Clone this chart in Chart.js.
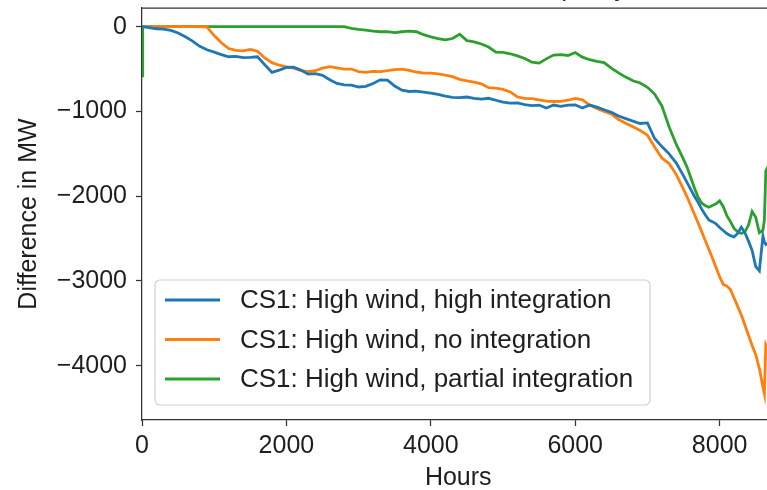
<!DOCTYPE html>
<html>
<head>
<meta charset="utf-8">
<style>
html,body{margin:0;padding:0;background:#fff;width:767px;height:490px;overflow:hidden}
#wrap{position:absolute;left:0;top:0;width:790px;height:500px}
</style>
<script src="https://cdn.jsdelivr.net/npm/chart.js@4.4.1/dist/chart.umd.min.js"></script>
</head>
<body>
<div id="wrap"><canvas id="c"></canvas></div>
<script>
// ---------- data ----------
const titleText = 'Difference in installed capacity';
const xTitle = 'Hours';
const yTitle = 'Difference in MW';
const seriesLabels = [
  'CS1: High wind, high integration',
  'CS1: High wind, no integration',
  'CS1: High wind, partial integration'
];
const xTickValues = [0, 2000, 4000, 6000, 8000];
const yTickValues = [0, -1000, -2000, -3000, -4000];

const hours = [
  0, 10,
  100, 200, 300, 400, 500, 600, 700, 800, 900, 1000,
  1100, 1200, 1300, 1400, 1500, 1600, 1700, 1800, 1900, 2000,
  2100, 2200, 2300, 2400, 2500, 2600, 2700, 2800, 2900, 3000,
  3100, 3200, 3300, 3400, 3500, 3600, 3700, 3800, 3900, 4000,
  4100, 4200, 4300, 4400, 4500, 4600, 4700, 4800, 4900, 5000,
  5100, 5200, 5300, 5400, 5500, 5600, 5700, 5800, 5900, 6000,
  6100, 6200, 6300, 6400, 6500, 6600, 6700, 6800, 6900, 7000,
  7100, 7200, 7300, 7400, 7500,
  7550, 7600, 7650, 7700, 7750, 7800, 7850, 7900, 7950, 8000,
  8050, 8100, 8150, 8200, 8250, 8300, 8350, 8400, 8450, 8500,
  8550, 8600,
  8620, 8640, 8700, 8760
];

const highIntegration = [
  0, 0,
  -12, -25, -30, -45, -75, -120, -170, -232, -272, -300,
  -330, -355, -350, -365, -362, -355, -450, -540, -512, -480,
  -478, -512, -560, -555, -575, -627, -670, -686, -690, -712,
  -705, -670, -627, -630, -700, -750, -765, -760, -772, -785,
  -800, -820, -835, -838, -830, -845, -855, -845, -868, -890,
  -903, -900, -920, -932, -925, -960, -925, -940, -925, -922,
  -960, -925, -950, -980, -1010, -1055, -1085, -1115, -1142, -1135,
  -1320, -1415, -1500, -1610, -1760,
  -1840, -1920, -2000, -2070, -2150, -2220, -2280, -2300, -2325, -2370,
  -2405, -2440, -2465, -2480, -2440, -2365, -2430, -2530, -2640, -2830,
  -2880, -2470,
  -2540, -2570, -2530, -2500
];

const noIntegration = [
  0, 0,
  0, 0, 0, 0, 0, 0, 0, 0, -5, -105,
  -190, -258, -280, -285, -268, -290, -370, -425, -455, -475,
  -490, -520, -530, -520, -490, -472, -485, -500, -500, -530,
  -540, -528, -530, -520, -508, -500, -515, -535, -548, -548,
  -558, -572, -590, -622, -640, -655, -675, -720, -725, -740,
  -770, -830, -845, -850, -864, -878, -883, -882, -868, -846,
  -864, -925, -965, -1000, -1030, -1095, -1140, -1180, -1225, -1280,
  -1420, -1550, -1615, -1745, -1920,
  -2010, -2110, -2210, -2310, -2415, -2520, -2625, -2730, -2840, -2950,
  -3040, -3060, -3100, -3200, -3300, -3400, -3520, -3640, -3760, -3870,
  -4030, -4250,
  -4330, -3750, -3850, -3950
];

const partialIntegration = [
  -580, 0,
  0, 0, 0, 0, 0, 0, 0, 0, 0, 0,
  0, 0, 0, 0, 0, 0, 0, 0, 0, 0,
  0, 0, 0, 0, 0, 0, 0, 0, -20, -32,
  -40, -52, -60, -58, -70, -60, -52, -60, -95, -120,
  -140, -155, -140, -90, -165, -180, -205, -240, -300, -303,
  -320, -345, -375, -420, -430, -380, -335, -330, -340, -305,
  -360, -390, -410, -425, -490, -545, -595, -638, -665, -715,
  -795, -935, -1180, -1390, -1565,
  -1660, -1780, -1900, -2010, -2080, -2110, -2130, -2110, -2090, -2055,
  -2120, -2230, -2300, -2380, -2420, -2440, -2420, -2340, -2180, -2250,
  -2430, -2400,
  -2280, -1700, -1600, -1550
];

// ---------- styling ----------
const FONT = "'Liberation Sans', Arial, Helvetica, sans-serif";
const TEXT = '#1e1e1e';
const SPINE = '#333333';
const colors = ['#1f77b4', '#ff7f0e', '#2ca02c'];
const seriesValues = [highIntegration, noIntegration, partialIntegration];
const toPoints = vals => hours.map((h, i) => ({ x: h, y: vals[i] }));
const fmt = v => (v < 0 ? '\u2212' + Math.abs(v) : String(v));
const noEdgePadding = s => { s.paddingTop = 0; s.paddingBottom = 0; s.paddingLeft = 0; s.paddingRight = 0; };

const framePlugin = {
  id: 'frame',
  afterDraw(chart) {
    const { ctx, chartArea: a } = chart;
    ctx.save();
    ctx.strokeStyle = SPINE;
    ctx.lineWidth = 1.25;
    ctx.beginPath();
    ctx.moveTo(a.left, a.top);
    ctx.lineTo(a.right, a.top);
    ctx.lineTo(a.right, a.bottom);
    ctx.stroke();
    // title (almost entirely above the visible page, as in the reference)
    ctx.fillStyle = TEXT;
    ctx.font = '25px ' + FONT;
    ctx.textAlign = 'center';
    ctx.textBaseline = 'alphabetic';
    ctx.fillText(titleText, (a.left + a.right) / 2, a.top - 12.5);
    ctx.restore();
  }
};

const legendPlugin = {
  id: 'boxLegend',
  afterDatasetsDraw(chart) {
    const { ctx, chartArea: a } = chart;
    const w = 495, h = 125;
    const x = a.left + 13, y = a.bottom - 15 - h;
    const r = 5;
    ctx.save();
    ctx.beginPath();
    ctx.moveTo(x + r, y);
    ctx.lineTo(x + w - r, y);
    ctx.arcTo(x + w, y, x + w, y + r, r);
    ctx.lineTo(x + w, y + h - r);
    ctx.arcTo(x + w, y + h, x + w - r, y + h, r);
    ctx.lineTo(x + r, y + h);
    ctx.arcTo(x, y + h, x, y + h - r, r);
    ctx.lineTo(x, y + r);
    ctx.arcTo(x, y, x + r, y, r);
    ctx.closePath();
    ctx.fillStyle = 'rgba(255,255,255,0.8)';
    ctx.fill();
    ctx.strokeStyle = '#d0d0d0';
    ctx.lineWidth = 1.2;
    ctx.stroke();
    ctx.font = '26px ' + FONT;
    ctx.textAlign = 'left';
    ctx.textBaseline = 'middle';
    chart.data.datasets.forEach((ds, i) => {
      const cy = y + 20 + i * 39.5;
      ctx.strokeStyle = ds.borderColor;
      ctx.lineWidth = 2.8;
      ctx.beginPath();
      ctx.moveTo(x + 10, cy);
      ctx.lineTo(x + 65, cy);
      ctx.stroke();
      ctx.fillStyle = TEXT;
      ctx.fillText(ds.label, x + 85, cy + 1);
    });
    ctx.restore();
  }
};

new Chart(document.getElementById('c'), {
  type: 'line',
  data: {
    datasets: seriesLabels.map((label, i) => ({
      label,
      data: toPoints(seriesValues[i]),
      borderColor: colors[i],
      backgroundColor: colors[i],
      borderWidth: 2.8,
      pointRadius: 0,
      tension: 0,
      fill: false
    }))
  },
  options: {
    responsive: true,
    maintainAspectRatio: false,
    animation: false,
    layout: { padding: { top: 8, right: 15.5, left: 0, bottom: 0 } },
    plugins: { legend: { display: false }, tooltip: { enabled: false }, title: { display: false } },
    scales: {
      x: {
        type: 'linear',
        min: 0,
        max: 8760,
        afterBuildTicks: s => { s.ticks = xTickValues.map(v => ({ value: v })); },
        afterFit: s => { s.height = 80; noEdgePadding(s); },
        border: { display: true, color: SPINE, width: 1.25 },
        grid: { display: true, drawOnChartArea: false, drawTicks: true, tickLength: 6, color: SPINE, tickWidth: 1.25 },
        ticks: { font: { family: FONT, size: 25 }, color: TEXT, padding: 5, maxRotation: 0, autoSkip: false, callback: v => fmt(v) },
        title: { display: true, text: xTitle, font: { family: FONT, size: 25 }, color: TEXT, padding: { top: 0, bottom: 6.75 } }
      },
      y: {
        type: 'linear',
        min: -4640,
        max: 220,
        afterBuildTicks: s => { s.ticks = yTickValues.map(v => ({ value: v })); },
        afterFit: s => { s.width = 142; noEdgePadding(s); },
        border: { display: true, color: SPINE, width: 1.25 },
        grid: { display: true, drawOnChartArea: false, drawTicks: true, tickLength: 6, color: SPINE, tickWidth: 1.25 },
        ticks: { font: { family: FONT, size: 25 }, color: TEXT, padding: 9, autoSkip: false, callback: v => fmt(v) },
        title: { display: true, text: yTitle, font: { family: FONT, size: 25 }, color: TEXT, padding: { top: 14, bottom: 0 } }
      }
    }
  },
  plugins: [legendPlugin, framePlugin]
});
</script>
</body>
</html>
